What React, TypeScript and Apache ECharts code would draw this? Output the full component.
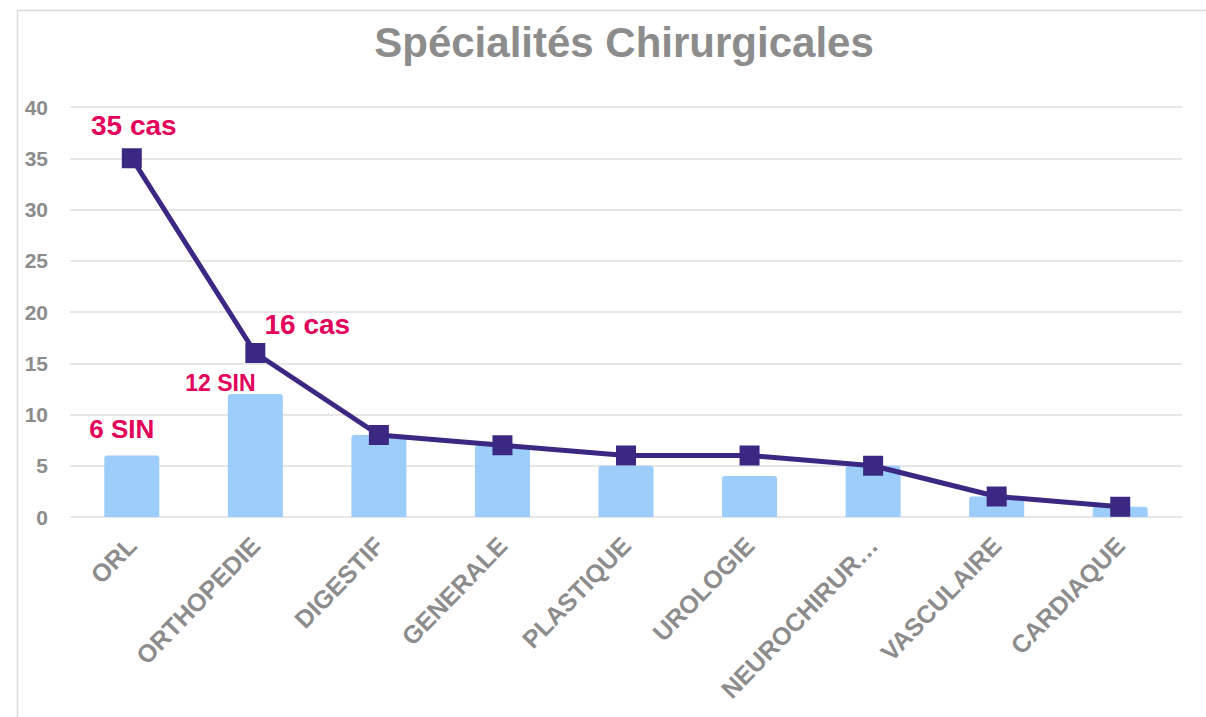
import React, { useEffect, useRef } from 'react';
import * as echarts from 'echarts';

const chartTitle = 'Spécialités Chirurgicales';
const categories = ['ORL', 'ORTHOPEDIE', 'DIGESTIF', 'GENERALE', 'PLASTIQUE', 'UROLOGIE', 'NEUROCHIRURGIE', 'VASCULAIRE', 'CARDIAQUE'];
const sinValues = [6, 12, 8, 7, 5, 4, 5, 2, 1];
const casValues = [35, 16, 8, 7, 6, 6, 5, 2, 1];
const sinLabelled = [0, 1];
const casLabelled = [0, 1];
const yMin = 0;
const yMax = 40;
const yStep = 5;

const FONT = '"Liberation Sans", Arial, Helvetica, sans-serif';
const GREY = '#8C8C8C';
const PINK = '#E2005A';

export default function App() {
  const ref = useRef<HTMLDivElement>(null);
  useEffect(() => {
    if (!ref.current) return;
    const chart = echarts.init(ref.current, undefined, { renderer: 'svg' });

    const barData = sinValues.map((v, i) => {
      if (!sinLabelled.includes(i)) return v;
      return {
        value: v,
        label: {
          show: true,
          position: 'top',
          formatter: `${v} SIN`,
          color: PINK,
          fontWeight: 'bold',
          fontFamily: FONT,
          fontSize: i === 0 ? 26 : 23,
          offset: i === 0 ? [-10, -9] : [-35, 5],
        },
      };
    });

    const lineData = casValues.map((v, i) => {
      if (!casLabelled.includes(i)) return v;
      return {
        value: v,
        label: {
          show: true,
          position: 'top',
          formatter: `${v} cas`,
          color: PINK,
          fontWeight: 'bold',
          fontFamily: FONT,
          fontSize: 28,
          offset: i === 0 ? [2, -4] : [52, 0],
        },
      };
    });

    chart.setOption({
      animation: false,
      backgroundColor: '#FFFFFF',
      graphic: [
        {
          type: 'rect',
          shape: { x: 17.5, y: 10.5, width: 1400, height: 900 },
          style: { fill: 'none', stroke: '#D9D9D9', lineWidth: 1.5 },
          silent: true,
        },
        {
          type: 'text',
          x: 624,
          y: 42,
          style: {
            text: chartTitle,
            textAlign: 'center',
            textVerticalAlign: 'middle',
            fill: GREY,
            fontSize: 42,
            fontWeight: 'bold',
            fontFamily: FONT,
          },
        },
      ],
      grid: { left: 70, right: 24, top: 107, bottom: 200, containLabel: false },
      xAxis: {
        type: 'category',
        data: categories,
        axisTick: { show: false },
        axisLine: { show: false },
        axisLabel: {
          rotate: 46,
          interval: 0,
          margin: 24,
          color: GREY,
          fontSize: 25,
          fontWeight: 'bold',
          fontFamily: FONT,
          formatter: (v: string) => (v.length > 12 ? v.slice(0, 11) + '…' : v),
        },
      },
      yAxis: {
        type: 'value',
        min: yMin,
        max: yMax,
        interval: yStep,
        axisLine: { show: false },
        axisTick: { show: false },
        axisLabel: {
          margin: 22,
          color: GREY,
          fontSize: 21,
          fontWeight: 'bold',
          fontFamily: FONT,
        },
        splitLine: { lineStyle: { color: '#DEDEDE', width: 1.5 } },
      },
      series: [
        {
          type: 'bar',
          name: 'SIN',
          data: barData,
          barWidth: 55,
          itemStyle: { color: '#9DCDFB', borderRadius: [3, 3, 0, 0] },
          z: 2,
        },
        {
          type: 'line',
          name: 'cas',
          data: lineData,
          symbol: 'rect',
          symbolSize: 20,
          lineStyle: { color: '#3B2883', width: 5 },
          itemStyle: { color: '#3B2883' },
          z: 3,
        },
      ],
    });
    return () => chart.dispose();
  }, []);

  return <div ref={ref} style={{ position: 'fixed', left: 0, top: 0, width: 1206, height: 717 }} />;
}
